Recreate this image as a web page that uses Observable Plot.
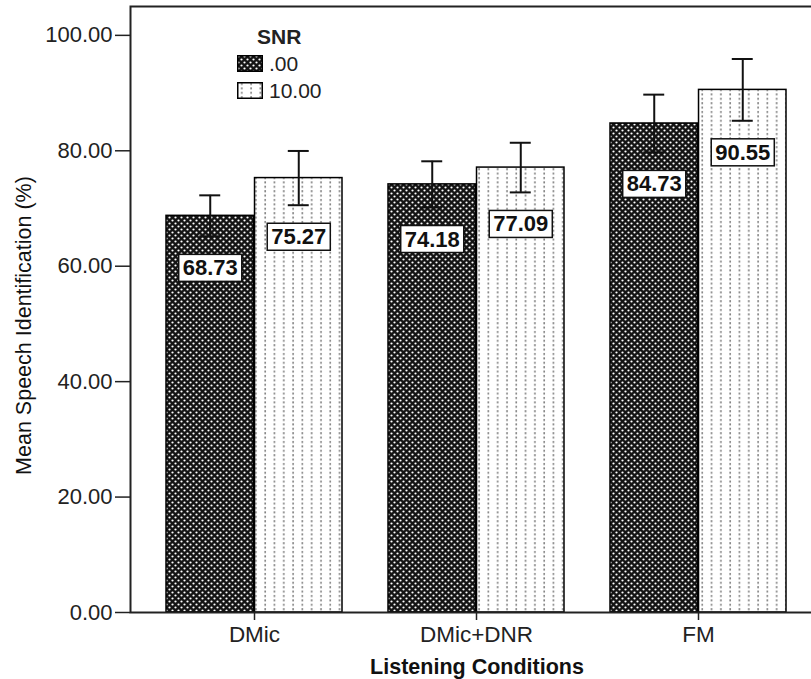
<!DOCTYPE html>
<html>
<head>
<meta charset="utf-8">
<script src="https://cdn.jsdelivr.net/npm/d3@7"></script>
<script src="https://cdn.jsdelivr.net/npm/@observablehq/plot@0.6"></script>
<style>
  html, body { margin: 0; padding: 0; background: #fff; }
  #wrap { position: relative; width: 811px; height: 679px; overflow: hidden; font-family: "Liberation Sans", Arial, sans-serif; }
  #chart svg { max-width: none !important; }
  #legend { position: absolute; left: 237px; top: 24px; color: #222; font-size: 21px; }
  #legend .title { font-weight: bold; margin-left: 20px; line-height: 26px; }
  #legend .row { display: flex; align-items: center; height: 27px; }
  #legend svg { margin-right: 6px; }
</style>
</head>
<body>
<svg width="0" height="0" style="position:absolute">
  <defs>
    <pattern id="pDark" patternUnits="userSpaceOnUse" width="6" height="6">
      <rect width="6" height="6" fill="#141414"/>
      <circle cx="1.5" cy="1.5" r="1.1" fill="#fff"/>
      <circle cx="4.5" cy="4.5" r="1.1" fill="#fff"/>
    </pattern>
    <pattern id="pLight" patternUnits="userSpaceOnUse" width="9.3" height="4.4">
      <rect width="9.3" height="4.4" fill="#fff"/>
      <rect x="4" y="1" width="1.6" height="2" fill="#808080"/>
    </pattern>
  </defs>
</svg>
<div id="wrap">
  <div id="chart"></div>
  <div id="legend">
    <div class="title">SNR</div>
    <div class="row"><svg width="26" height="17"><rect x="0.75" y="0.75" width="24.5" height="15.5" fill="url(#pDark)" stroke="#000" stroke-width="1.5"/></svg><span>.00</span></div>
    <div class="row"><svg width="26" height="17"><rect x="0.75" y="0.75" width="24.5" height="15.5" fill="url(#pLight)" stroke="#000" stroke-width="1.5"/></svg><span>10.00</span></div>
  </div>
</div>
<script>
// ---- data ----
const conditions = ["DMic", "DMic+DNR", "FM"];
const snrLevels = [".00", "10.00"];
const means00 = [68.73, 74.18, 84.73];
const means10 = [75.27, 77.09, 90.55];
const err00 = [3.55, 4.0, 5.0];
const err10 = [4.7, 4.3, 5.35];
const yTicks = [0, 20, 40, 60, 80, 100];
const xTitle = "Listening Conditions";
const yTitle = "Mean Speech Identification (%)";

const rows00 = conditions.map((c, i) => ({cond: c, snr: snrLevels[0], mean: means00[i], err: err00[i]}));
const rows10 = conditions.map((c, i) => ({cond: c, snr: snrLevels[1], mean: means10[i], err: err10[i]}));

// ---- layout ----
const W = 823, H = 679;
const mL = 130, mR = 0, mT = 6, mB = 67;
const xOpts = {type: "band", domain: conditions, range: [mL, W - mR], paddingInner: 0.206, paddingOuter: 0.157};
const xs = Plot.scale({x: xOpts});
const bw = xs.bandwidth;
const half = bw / 2, quarter = bw / 4, cap = 11;

const errMarks = (rows, sign) => {
  const il = sign < 0 ? quarter - cap : 3 * quarter - cap;
  const ir = sign < 0 ? 3 * quarter - cap : quarter - cap;
  return [
    Plot.ruleX(rows, {x: "cond", y1: d => d.mean - d.err, y2: d => d.mean + d.err, dx: sign * quarter, stroke: "#111", strokeWidth: 2}),
    Plot.tickY(rows, {x: "cond", y: d => d.mean + d.err, insetLeft: il, insetRight: ir, stroke: "#111", strokeWidth: 2}),
    Plot.tickY(rows, {x: "cond", y: d => d.mean - d.err, insetLeft: il, insetRight: ir, stroke: "#111", strokeWidth: 2})
  ];
};

const fmt = d => d.mean.toFixed(2);
const labelMark = (rows, sign) => Plot.text(rows, {
  x: "cond", y: d => d.mean - d.err, dx: sign * quarter, dy: 32,
  text: fmt, fontWeight: "bold", fontSize: 22, fill: "#111"
});

const chart = Plot.plot({
  width: W, height: H,
  marginLeft: mL, marginRight: mR, marginTop: mT, marginBottom: mB,
  style: {fontFamily: "Liberation Sans, Arial, sans-serif", fontSize: "22px", color: "#222", background: "#fff", maxWidth: "none"},
  x: {...xOpts, label: null, axis: null},
  y: {domain: [0, 105], label: null, axis: null},
  marks: [
    Plot.barY(rows00, {x: "cond", y: "mean", insetRight: half, fill: "url(#pDark)", stroke: "#000", strokeWidth: 1.5}),
    Plot.barY(rows10, {x: "cond", y: "mean", insetLeft: half, fill: "url(#pLight)", stroke: "#000", strokeWidth: 1.5}),
    ...errMarks(rows00, -1),
    ...errMarks(rows10, 1),
    labelMark(rows00, -1),
    labelMark(rows10, 1),
    Plot.frame({stroke: "#222", strokeWidth: 2}),
    Plot.axisY({ticks: yTicks, tickFormat: d => d.toFixed(2), tickSize: 15, tickPadding: 3, label: null, stroke: "#222", strokeWidth: 1.5}),
    Plot.axisX({tickSize: 8, tickPadding: 6, label: null, stroke: "#222", strokeWidth: 1.5, fontSize: 22.5}),
    Plot.text([xTitle], {frameAnchor: "bottom", dy: 61, fontWeight: "bold", fontSize: 21.5, fill: "#111"}),
    Plot.text([yTitle], {frameAnchor: "left", textAnchor: "middle", rotate: -90, dx: -106, dy: 16, fontSize: 21.5, fill: "#111"})
  ]
});

document.getElementById("chart").appendChild(chart);

// white boxes behind value labels
const labelSet = new Set([...rows00, ...rows10].map(fmt));
d3.select(chart).selectAll("text").filter(function() {
  return labelSet.has(this.textContent) && this.closest("g") && !this.closest('g[aria-label$="axis"]');
}).each(function() {
  const b = this.getBBox();
  const padX = 4, padY = 1;
  const r = d3.select(this.parentNode).insert("rect", () => this)
    .attr("x", b.x - padX).attr("y", b.y - padY)
    .attr("width", b.width + 2 * padX).attr("height", b.height + 2 * padY)
    .attr("fill", "#fff").attr("stroke", "#111").attr("stroke-width", 1.5);
  const t = this.getAttribute("transform");
  if (t) r.attr("transform", t);
});
</script>
</body>
</html>
